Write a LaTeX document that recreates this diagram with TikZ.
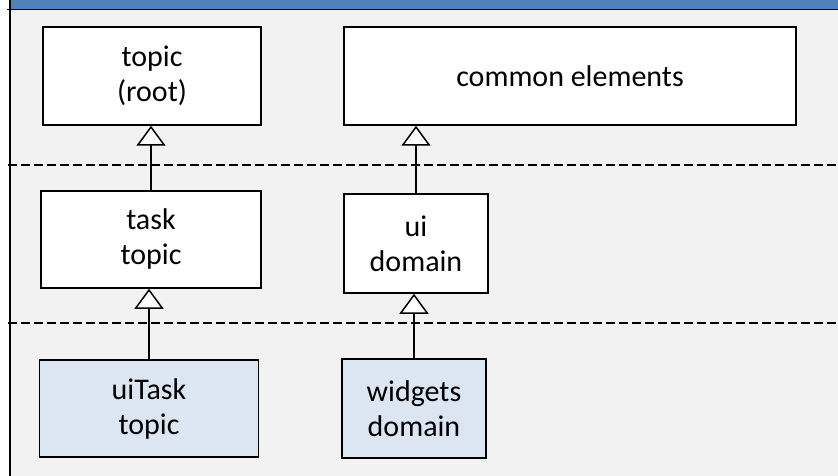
\documentclass[tikz,border=0pt]{standalone}
\usepackage{fontspec}
\setmainfont{Carlito}
\usetikzlibrary{arrows.meta}
\definecolor{hdrblue}{HTML}{4F81BD}
\definecolor{panelgray}{HTML}{F2F2F2}
\definecolor{lightblue}{HTML}{DCE6F2}
\begin{document}
\begin{tikzpicture}[x=1pt,y=-1pt,
  box/.style={draw=black, line width=1.5pt, fill=white, align=center, inner sep=0pt,
    font=\fontsize{30}{35}\selectfont},
  leafbox/.style={box, fill=lightblue},
  gen/.style={line width=1.5pt, -{Triangle[open, length=20pt, width=29pt, fill=white, line width=1.5pt]}},
  sep/.style={line width=1.5pt, dash pattern=on 9pt off 4pt}]
\useasboundingbox (0,0) rectangle (838,476);
% panel
\fill[white] (0,0) rectangle (838,476);
\fill[hdrblue] (10,0) rectangle (838,9.5);
\fill[panelgray] (10,9.5) rectangle (838,476);
\draw[line width=1.5pt] (7,9.5) -- (838,9.5);
\draw[line width=1.5pt] (10,0) -- (10,476);
% layer separators
\draw[sep] (8,165) -- (838,165);
\draw[sep] (8,323) -- (838,323);
% boxes
\node[box, minimum width=218pt, minimum height=98pt] (root) at (152,76) {topic\\(root)};
\node[box, minimum width=452pt, minimum height=98pt] (common) at (570,76) {common elements};
\node[box, minimum width=220pt, minimum height=97pt] (task) at (151,239.5) {task\\topic};
\node[box, minimum width=144pt, minimum height=99pt] (ui) at (416,243.5) {ui\\domain};
\node[leafbox, minimum width=219pt, minimum height=97pt] (uitask) at (149,408.5) {uiTask\\topic};
\node[leafbox, minimum width=144pt, minimum height=99pt] (widgets) at (414,408.5) {widgets\\domain};
% generalization connectors
\draw[gen] (task.north) -- (task.north |- root.south);
\draw[gen] (ui.north) -- (ui.north |- common.south);
\draw[gen] (uitask.north) -- (uitask.north |- task.south);
\draw[gen] (widgets.north) -- (widgets.north |- ui.south);
\end{tikzpicture}
\end{document}
